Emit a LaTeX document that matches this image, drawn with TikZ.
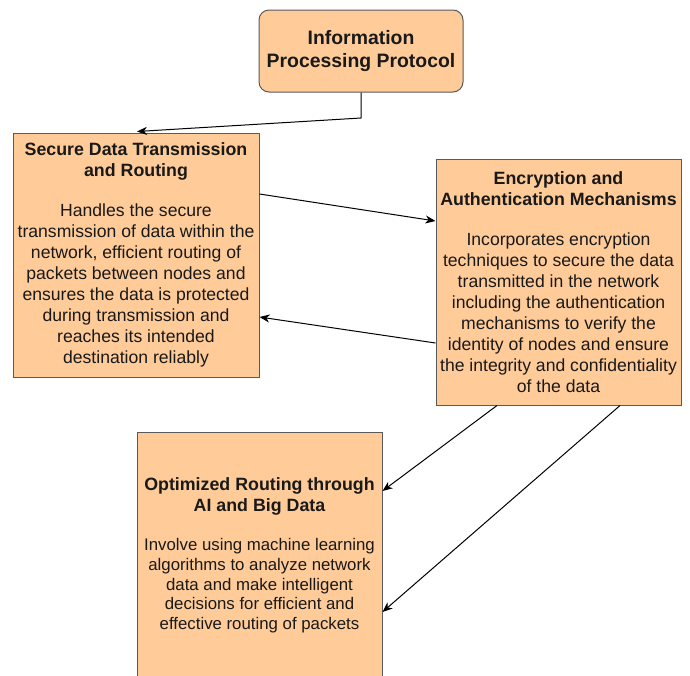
\documentclass[tikz,border=0pt]{standalone}
\usepackage{fontspec}
\setmainfont{Liberation Sans}
\usetikzlibrary{arrows.meta}
\definecolor{boxfill}{HTML}{FFCC99}
\definecolor{boxline}{HTML}{5A5A5A}
\newcommand\ttlB[1]{{\fontsize{17.8}{21}\selectfont\bfseries #1}}
\tikzset{
  box/.style={draw=boxline, fill=boxfill, line width=1pt, align=center, inner sep=0pt, text=black!90},
  arr/.style={draw=black, line width=1pt, -{Stealth[length=10pt,width=8pt,inset=3pt]}},
}
\begin{document}
\begin{tikzpicture}[x=1pt,y=-1pt]
\useasboundingbox (0,0) rectangle (690,675);
\clip (0,0) rectangle (690,675);
\node[box, rounded corners=10pt, minimum width=204pt, minimum height=82pt,
      font=\fontsize{19.4}{23}\selectfont\bfseries] (ipp) at (361,51)
  {Information\\Processing Protocol};
\node[box, minimum width=246pt, minimum height=244pt,
      font=\fontsize{17.6}{21}\selectfont] (sec) at (136,255)
  {\ttlB{Secure Data Transmission}\\ \ttlB{and Routing}\\[19pt]
   Handles the secure\\ transmission of data within the\\ network, efficient routing of\\
   packets between nodes and\\ ensures the data is protected\\ during transmission and\\
   reaches its intended\\ destination reliably};
\node[box, minimum width=245pt, minimum height=246pt,
      font=\fontsize{17.6}{21}\selectfont] (enc) at (558.5,282)
  {\ttlB{Encryption and}\\ \ttlB{Authentication Mechanisms}\\[19.5pt]
   Incorporates encryption\\ techniques to secure the data\\ transmitted in the network\\
   including the authentication\\ mechanisms to verify the\\ identity of nodes and ensure\\
   the integrity and confidentiality\\ of the data};
\node[box, minimum width=245pt, minimum height=246pt,
      font=\fontsize{16.8}{19.6}\selectfont] (opt) at (259.5,555)
  {\ttlB{Optimized Routing through}\\[1.7pt] \ttlB{AI and Big Data}\\[19.8pt]
   Involve using machine learning\\ algorithms to analyze network\\ data and make intelligent\\
   decisions for efficient and\\ effective routing of packets};
\coordinate (bend) at (361,118);
\draw[arr] (ipp.south) -- (bend) -- ([xshift=1pt,yshift=1pt]sec.north);
\draw[arr] ([yshift=61pt]sec.east) -- ([yshift=61pt]enc.west);
\draw[arr] ([yshift=-61pt]enc.west) -- ([yshift=-62pt]sec.east);
\draw[arr] ([xshift=-61.5pt]enc.south) -- ([yshift=64pt]opt.east);
\draw[arr] ([xshift=61.5pt]enc.south) -- ([yshift=-57pt]opt.east);
\end{tikzpicture}
\end{document}
